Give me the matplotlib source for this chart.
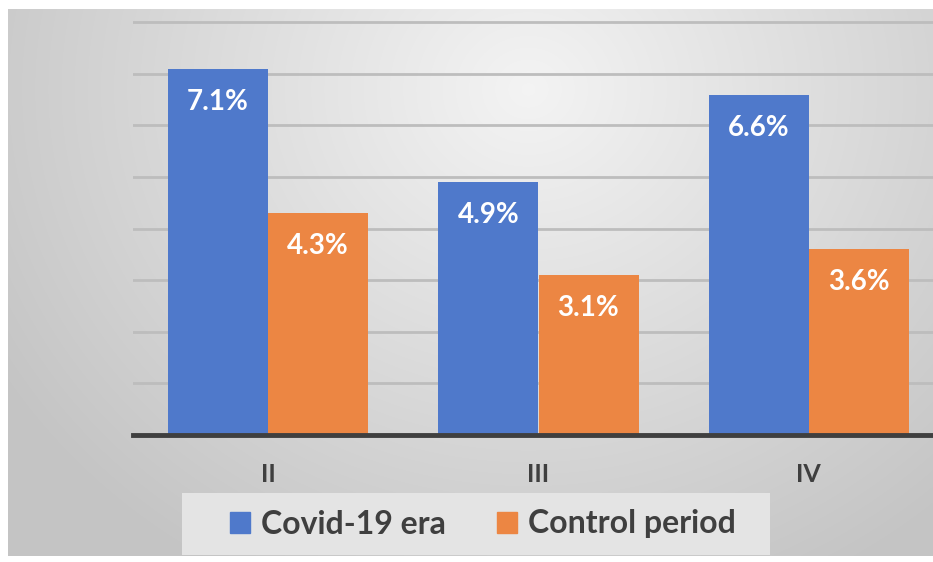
import numpy as np
import matplotlib.pyplot as plt
from matplotlib.patches import Patch, Rectangle

categories = ["II", "III", "IV"]
covid_era = [7.1, 4.9, 6.6]
control_period = [4.3, 3.1, 3.6]
series_names = ["Covid-19 era", "Control period"]

BLUE = "#4F79CB"
ORANGE = "#EC8643"
DARK = "#3F3F3F"

plt.rcParams["font.family"] = ["Lato", "DejaVu Sans"]

W, H = 933, 562
fig = plt.figure(figsize=(W / 100, H / 100), dpi=100)
fig.patch.set_facecolor("white")

# soft radial gradient panel behind the chart
bg = fig.add_axes([8 / W, 6 / H, (W - 8) / W, (H - 15) / H], zorder=-5)
yy, xx = np.mgrid[0:547, 0:925]
cx, cy = 520, 80
d = np.sqrt(((xx - cx) / 1.0) ** 2 + ((yy - cy) / 0.9) ** 2)
t = np.clip(d / 620, 0, 1) ** 1.0
light, dark = 0.955, 0.77
img = light + (dark - light) * t
bg.imshow(np.dstack([img, img, img]), aspect="auto", interpolation="bilinear")
bg.axis("off")

ax = fig.add_axes([133 / W, 127 / H, 811 / W, (435 - 12) / H])
ax.set_facecolor("none")

x = np.arange(len(categories))
w = 0.37
b1 = ax.bar(x - w / 2, covid_era, w, color=BLUE, zorder=3, label=series_names[0])
b2 = ax.bar(x + w / 2, control_period, w, color=ORANGE, zorder=3, label=series_names[1])

for bars, vals in ((b1, covid_era), (b2, control_period)):
    for rect, v in zip(bars, vals):
        ax.annotate(f"{v:.1f}%", (rect.get_x() + rect.get_width() / 2, v),
                    xytext=(0, -33), textcoords="offset pixels",
                    ha="center", va="center", color="white",
                    fontsize=20, fontweight="bold", zorder=4)

ax.set_xlim(-0.5, 2.5)
ax.set_ylim(0, 8.2)
ax.set_yticks(np.arange(1, 9))
ax.yaxis.grid(True, color="#BDBDBD", linewidth=2, zorder=1)
ax.tick_params(axis="y", left=False, labelleft=False)
ax.tick_params(axis="x", length=0, pad=20, labelsize=18, labelcolor=DARK)
ax.set_xticks(x)
ax.set_xticklabels(categories, fontweight="bold")
for s in ("top", "right", "left"):
    ax.spines[s].set_visible(False)
ax.spines["bottom"].set_color(DARK)
ax.spines["bottom"].set_linewidth(3.5)
ax.spines["bottom"].set_zorder(5)

# legend panel
fig.patches.append(Rectangle((182 / W, 1 - 555 / H), (770 - 182) / W, 62 / H,
                             transform=fig.transFigure, facecolor="#E4E4E4",
                             edgecolor="none", zorder=1))

handles = [Patch(color=BLUE), Patch(color=ORANGE)]
leg = fig.legend(handles, series_names, loc="center", bbox_to_anchor=(483 / W, 1 - 524 / H),
                 ncol=2, frameon=False, prop={"weight": "bold", "size": 23},
                 handlelength=0.62, handleheight=0.62, handletextpad=0.35,
                 columnspacing=1.6, borderpad=0.45)
leg.set_zorder(3)
for txt in leg.get_texts():
    txt.set_color(DARK)

fig.savefig("out.png", dpi=100, facecolor=fig.get_facecolor())
